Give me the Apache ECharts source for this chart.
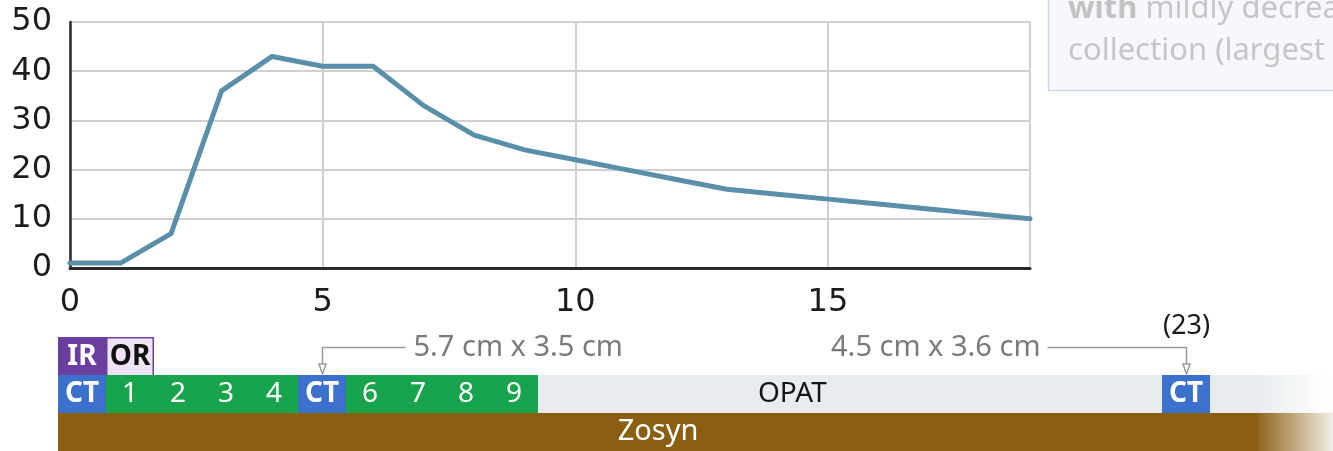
<!DOCTYPE html>
<html>
<head>
<meta charset="utf-8">
<title>Collection size and treatment timeline</title>
<script src="https://cdn.jsdelivr.net/npm/echarts@6/dist/echarts.min.js"></script>
<style>
  html, body { margin: 0; padding: 0; background: #ffffff; }
  #chart { width: 1333px; height: 451px; }
</style>
</head>
<body>
<div id="chart"></div>
<script>
// ---- data ---------------------------------------------------------------
// Daily values of the plotted measure (day 0 .. day 19)
const days = [0, 1, 2, 3, 4, 5, 6, 7, 8, 9, 10, 11, 12, 13, 14, 15, 16, 17, 18, 19];
const values = [1, 1, 7, 36, 43, 41, 41, 33, 27, 24, 22, 20, 18, 16, 15, 14, 13, 12, 11, 10];

// Axis ticks
const xTicks = [0, 5, 10, 15];
const yTicks = [0, 10, 20, 30, 40, 50];

// Timeline rows
const rows = ['procedure', 'imaging', 'antibiotic'];
const procedures = [
  { day: 0, label: 'IR' },
  { day: 1, label: 'OR' }
];
const ctDays = [0, 5, 23];
const inpatientDays = [1, 2, 3, 4, 6, 7, 8, 9];
const followUpEnd = 25;
const opat = { start: 10, end: 25, label: 'OPAT', labelDay: 15.3 };
const zosyn = { start: 0, end: 25, label: 'Zosyn' };
const ctSizes = [
  { day: 5, size: '5.7 cm x 3.5 cm', side: 'right' },
  { day: 23, size: '4.5 cm x 3.6 cm', side: 'left', dayLabel: '(23)' }
];

// ---- timeline segments (built from the arrays above) --------------------
const segments = [];
procedures.forEach(p => segments.push({ row: 0, start: p.day, end: p.day + 1, kind: p.label, label: p.label }));
segments.push({ row: 1, start: opat.start, end: opat.end, kind: 'opat', label: opat.label, labelDay: opat.labelDay });
inpatientDays.forEach(d => segments.push({ row: 1, start: d, end: d + 1, kind: 'day', label: String(d) }));
ctDays.forEach(d => segments.push({ row: 1, start: d, end: d + 1, kind: 'ct', label: 'CT' }));
segments.push({ row: 2, start: zosyn.start, end: zosyn.end, kind: 'zosyn', label: zosyn.label });

const SANS = '"Noto Sans", "Open Sans", sans-serif';
const PURPLE = '#6b3fa0';

const segmentStyle = {
  IR:    { fill: PURPLE,    stroke: PURPLE, text: '#ffffff', weight: 'bold' },
  OR:    { fill: '#efe4f6', stroke: PURPLE, text: '#111111', weight: 'bold' },
  ct:    { fill: '#3b70cc', stroke: null,   text: '#ffffff', weight: 'bold' },
  day:   { fill: '#18a44c', stroke: null,   text: '#ffffff', weight: 'normal' },
  opat:  { fill: '#e8ecee', stroke: null,   text: '#151515', weight: 'normal', fadeTo: 'rgba(255,255,255,1)' },
  zosyn: { fill: '#8a5f12', stroke: null,   text: '#ffffff', weight: 'normal', fadeTo: 'rgba(138,95,18,0.1)' }
};

function renderSegment(params, api) {
  const seg = segments[api.value(3)];
  const st = segmentStyle[seg.kind];
  const p0 = api.coord([api.value(0), api.value(2)]);
  const p1 = api.coord([api.value(1), api.value(2)]);
  const bandH = api.size([0, 1])[1];
  const top = p0[1] - bandH / 2;
  const children = [];
  const inset = st.stroke ? 0.75 : 0;
  children.push({
    type: 'rect',
    shape: { x: p0[0] + inset, y: top + inset, width: p1[0] - p0[0] - 2 * inset, height: bandH - 2 * inset + (seg.row === 0 ? 2 : 0) },
    style: { fill: st.fill, stroke: st.stroke || null, lineWidth: st.stroke ? 1.5 : 0 }
  });
  if (st.fadeTo && seg.end === followUpEnd) {
    const right = params.coordSys.x + params.coordSys.width;
    children.push({
      type: 'rect',
      shape: { x: p1[0] - 4, y: top, width: right - p1[0] + 4, height: bandH },
      style: {
        fill: new echarts.graphic.LinearGradient(0, 0, 1, 0, [
          { offset: 0, color: st.fill },
          { offset: 1, color: st.fadeTo }
        ])
      }
    });
  }
  const labelX = seg.labelDay !== undefined ? api.coord([seg.labelDay, api.value(2)])[0] : (p0[0] + p1[0]) / 2;
  children.push({
    type: 'text',
    x: labelX,
    y: p0[1] + (seg.row === 0 ? 1 : 0),
    style: {
      text: seg.label,
      fill: st.text,
      font: st.weight + ' ' + (seg.kind === 'zosyn' ? 29 : 28) + 'px ' + SANS,
      align: 'center',
      verticalAlign: 'middle'
    }
  });
  return { type: 'group', children: children };
}

// Callout arrows pointing from the measurement text down to the CT cell
const calloutLayout = {
  right: { lead: 83, gap: 8 },
  left:  { lead: 139, gap: 7 }
};
function renderCallout(params, api) {
  const c = ctSizes[api.value(2)];
  const lay = calloutLayout[c.side];
  const center = api.coord([api.value(0) + 0.5, api.value(1)]);
  const bandH = api.size([0, 1])[1];
  const top = center[1] - bandH / 2;
  const cx = Math.round(center[0]) + 0.5;
  const lineY = top + 10.5;
  const tipY = top + 37;
  const headH = 10, headW = 3.5;
  const gray = '#999999';
  const endX = c.side === 'right' ? cx + lay.lead : cx - lay.lead;
  const children = [
    { type: 'polyline', shape: { points: [[endX, lineY], [cx, lineY], [cx, tipY - headH]] },
      style: { stroke: gray, lineWidth: 1.5, fill: null } },
    { type: 'polygon', shape: { points: [[cx - headW, tipY - headH], [cx + headW, tipY - headH], [cx, tipY]] },
      style: { stroke: gray, lineWidth: 1.5, fill: '#ffffff' } },
    { type: 'text', x: c.side === 'right' ? endX + lay.gap : endX - lay.gap, y: lineY,
      style: { text: c.size, fill: '#7a7a7a', font: '29px ' + SANS,
               align: c.side === 'right' ? 'left' : 'right', verticalAlign: 'middle' } }
  ];
  if (c.dayLabel) {
    children.push({ type: 'text', x: cx, y: top - 11,
      style: { text: c.dayLabel, fill: '#1a1a1a', font: '27px ' + SANS, align: 'center', verticalAlign: 'middle' } });
  }
  return { type: 'group', children: children };
}

const chart = echarts.init(document.getElementById('chart'), null, { renderer: 'canvas' });

const axisFont = { fontFamily: '"DejaVu Sans", sans-serif', fontSize: 32, color: '#1c1c1c' };

chart.setOption({
  animation: false,
  backgroundColor: '#ffffff',
  grid: [
    { left: 70, top: 22, right: 303, bottom: 183, containLabel: false, outerBoundsMode: 'none' },
    { left: 58, right: 0, top: 337, bottom: 0, containLabel: false, outerBoundsMode: 'none' }
  ],
  xAxis: [
    {
      gridIndex: 0, type: 'value', min: xTicks[0], max: days[days.length - 1], interval: xTicks[1] - xTicks[0],
      axisLine: { show: true, onZero: false, lineStyle: { color: '#2a2a2a', width: 3 } },
      axisTick: { show: false },
      axisLabel: Object.assign({ margin: 19, showMaxLabel: false }, axisFont),
      splitLine: { show: true, lineStyle: { color: '#d0d0d0', width: 2 } }
    },
    { gridIndex: 1, type: 'value', min: 0, max: 1275 / 48, show: false }
  ],
  yAxis: [
    {
      gridIndex: 0, type: 'value', min: yTicks[0], max: yTicks[yTicks.length - 1], interval: yTicks[1] - yTicks[0],
      axisLine: { show: true, lineStyle: { color: '#2a2a2a', width: 2.5 } },
      axisTick: { show: false },
      axisLabel: Object.assign({ margin: 18 }, axisFont),
      splitLine: { show: true, lineStyle: { color: '#d0d0d0', width: 2 } }
    },
    { gridIndex: 1, type: 'category', data: rows, inverse: true, show: false }
  ],
  series: [
    {
      type: 'line',
      xAxisIndex: 0, yAxisIndex: 0,
      data: days.map((d, i) => [d, values[i]]),
      showSymbol: false,
      symbol: 'none',
      lineStyle: { color: '#5a8fa9', width: 5, join: 'round', cap: 'round' },
      z: 5
    },
    {
      type: 'custom',
      xAxisIndex: 1, yAxisIndex: 1,
      renderItem: renderSegment,
      encode: { x: [0, 1], y: 2 },
      data: segments.map((s, i) => [s.start, s.end, s.row, i]),
      clip: false
    },
    {
      type: 'custom',
      xAxisIndex: 1, yAxisIndex: 1,
      renderItem: renderCallout,
      encode: { x: 0, y: 1 },
      data: ctSizes.map((c, i) => [c.day, 0, i]),
      clip: false,
      z: 3
    }
  ],
  graphic: [
    {
      type: 'rect',
      shape: { x: 1048.5, y: -20, width: 400, height: 110.5 },
      style: { fill: '#f7f8fc', stroke: '#cdd7ea', lineWidth: 1.5 }
    },
    {
      type: 'text', x: 1068, y: 9.5,
      style: {
        text: '{b|with} {r|mildly decreasing}',
        verticalAlign: 'middle',
        rich: {
          b: { fontFamily: SANS, fontSize: 31, fontWeight: 'bold', fill: '#c2c2c2', color: '#c2c2c2' },
          r: { fontFamily: SANS, fontSize: 31, fill: '#c6c6c6', color: '#c6c6c6' }
        },
        font: '31px ' + SANS,
        fill: '#c6c6c6'
      }
    },
    {
      type: 'text', x: 1068, y: 51.5,
      style: { text: 'collection (largest', font: '31px ' + SANS, fill: '#c6c6c6', verticalAlign: 'middle' }
    }
  ]
});
</script>
</body>
</html>
